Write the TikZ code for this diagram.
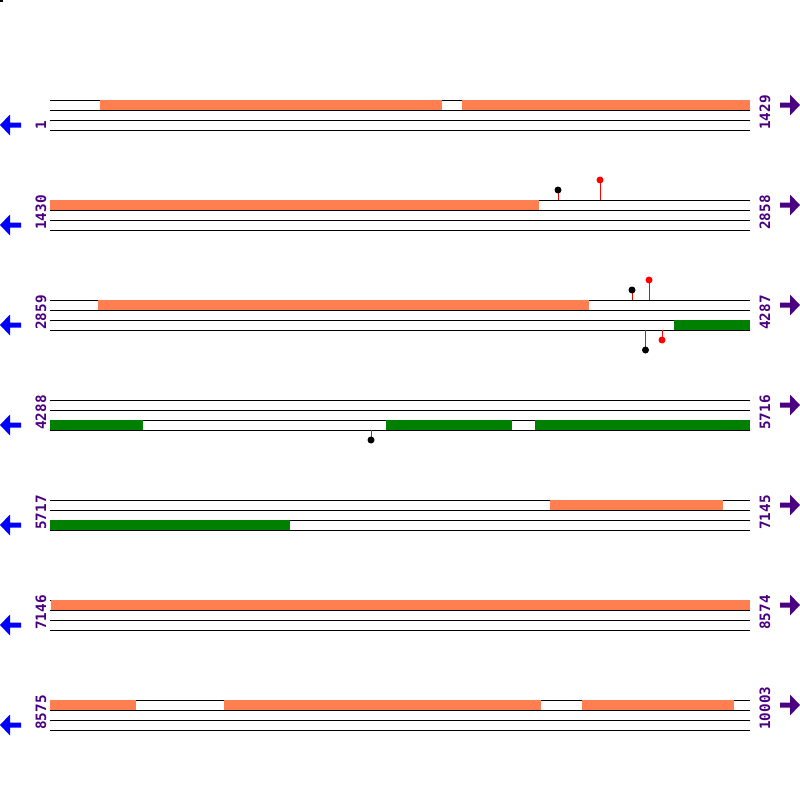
\documentclass[tikz,border=0pt]{standalone}
\usepackage{fontspec}
\newfontfamily\monofont{DejaVu Sans Mono}
\definecolor{featorange}{HTML}{FF7F50}
\definecolor{featgreen}{HTML}{008000}
\definecolor{labpurple}{HTML}{4B0082}
\definecolor{arrblue}{HTML}{0000FF}
\begin{document}
\begin{tikzpicture}[x=1pt,y=-1pt,
  strand/.style={line width=1pt,black},
  orangebar/.style={fill=featorange,draw=none},
  greenbar/.style={fill=featgreen,draw=none},
  stick/.style={line width=1pt,red},
  blackdot/.style={fill=black,draw=none},
  reddot/.style={fill=red,draw=none},
  poslabel/.style={rotate=90,anchor=west,inner sep=0pt,text=labpurple,font=\monofont\bfseries\fontsize{14.3}{14.3}\selectfont},
  leftarrow/.style={fill=arrblue,draw=none},
  rightarrow/.style={fill=labpurple,draw=none}]
\useasboundingbox (0,0) rectangle (800,800);
\fill[black] (0,0) rectangle (3,2);
% rows
\foreach \b/\l/\r [count=\i] in {100/1/1429,200/1430/2858,300/2859/4287,400/4288/5716,500/5717/7145,600/7146/8574,700/8575/10003}{
  \foreach \k in {0,10,20,30}{
    \draw[strand] (50,\b+\k) -- (750,\b+\k);
  }
  \node[poslabel] (L\i) at (41,\b+30) {\l};
  \node[poslabel] (R\i) at (765,\b+30) {\r};
  \fill[leftarrow] (0,\b+25) -- (10,\b+14.5) -- (10,\b+22.5) -- (21,\b+22.5) -- (21,\b+27.5) -- (10,\b+27.5) -- (10,\b+35.5) -- cycle;
  \fill[rightarrow] (800,\b+5) -- (790,\b-5.5) -- (790,\b+2.5) -- (780,\b+2.5) -- (780,\b+7.5) -- (790,\b+7.5) -- (790,\b+15.5) -- cycle;
}
% row 1
\fill[orangebar] (100,100) rectangle (442,110);
\fill[orangebar] (462,100) rectangle (750,110);
% row 2
\fill[orangebar] (50,200) rectangle (539,210);
\draw[stick] (558,200) -- (558,190);
\fill[blackdot] (558,190) circle (3.5);
\draw[stick] (600,200) -- (600,180);
\fill[reddot] (600,180) circle (3.5);
% row 3
\fill[orangebar] (98,300) rectangle (589,310);
\fill[greenbar] (674,320) rectangle (750,330);
\draw[stick] (632,300) -- (632,290);
\fill[blackdot] (632,290) circle (3.5);
\draw[stick] (649,300) -- (649,280);
\fill[reddot] (649,280) circle (3.5);
\draw[stick] (645.5,330) -- (645.5,350);
\fill[blackdot] (645.5,350) circle (3.5);
\draw[stick] (662,330) -- (662,340);
\fill[reddot] (662,340) circle (3.5);
% row 4
\fill[greenbar] (50,420) rectangle (143,430);
\fill[greenbar] (386,420) rectangle (512,430);
\fill[greenbar] (535,420) rectangle (750,430);
\draw[stick] (371,430) -- (371,440);
\fill[blackdot] (371,440) circle (3.5);
% row 5
\fill[orangebar] (550,500) rectangle (723,510);
\fill[greenbar] (50,520) rectangle (290,530);
% row 6
\fill[orangebar] (51,600) rectangle (750,610);
% row 7
\fill[orangebar] (50,700) rectangle (136,710);
\fill[orangebar] (224,700) rectangle (541,710);
\fill[orangebar] (582,700) rectangle (734,710);
\end{tikzpicture}
\end{document}
